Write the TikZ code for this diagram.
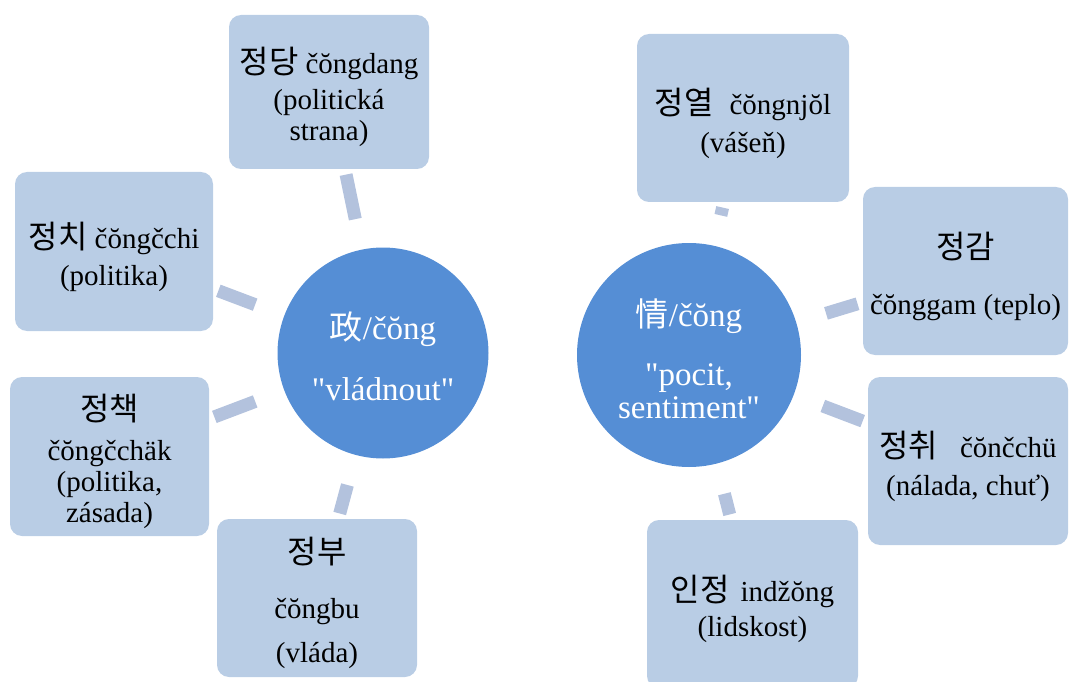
\documentclass[tikz,border=0pt]{standalone}
\usepackage{fontspec}
\setmainfont{Liberation Serif}
\newfontfamily\krfont[Scale=1.1]{Noto Sans CJK KR}
\newfontfamily\zhfont{Noto Sans CJK SC}
\usepackage{tikz}
\definecolor{boxblue}{RGB}{185,205,229}
\definecolor{hubblue}{RGB}{85,142,213}
\definecolor{barblue}{RGB}{179,194,221}
\newcommand{\qq}{\textquotedbl}
\newcommand{\ko}[1]{\rule{0pt}{37pt}{\krfont #1}}
\newcommand{\zh}[1]{\rule{0pt}{35pt}{\zhfont #1}}
\tikzset{
  hub_node/.style = {circle, fill=hubblue, text=white, align=center,
    inner sep=0pt, font=\fontsize{33}{33}\selectfont},% kruh se znakem
  term_node/.style = {rectangle, rounded corners=12pt, fill=boxblue,
    align=center, inner sep=0pt, font=\fontsize{29}{31}\selectfont},% slovo
  link_bar/.style = {barblue, line width=13pt,
    shorten <=31pt, shorten >=5.5pt}% spojka
}

\begin{document}
\begin{tikzpicture}[x=1pt, y=-1pt]
  \useasboundingbox (0,0) rectangle (1069,682);
  \clip (0,0) rectangle (1069,682);
  % 政
  \node [hub_node, minimum size=211pt] (zheng) at (383,353)
    {\zh{政}/čŏng\\[28pt]\qq vládnout\qq};
  \node [term_node, minimum width=200pt, minimum height=154pt] (dang) at (329,92)
    {\ko{정당} čŏngdang\\[5pt](politická\\strana)};
  \node [term_node, minimum width=198pt, minimum height=159pt] (chi) at (114,251.5)
    {\ko{정치} čŏngčchi\\[6pt](politika)};
  \node [term_node, minimum width=199pt, minimum height=159pt] (chaek) at (109.5,456.5)
    {\ko{정책}\\[9pt]čŏngčchäk\\(politika,\\zásada)};
  \node [term_node, minimum width=200pt, minimum height=158pt] (bu) at (317,598)
    {\ko{정부}\\[24pt]čŏngbu\\[13pt](vláda)};
  % 情
  \node [hub_node, minimum size=224pt] (qing) at (689,355)
    {\zh{情}/čŏng\\[26pt]\qq pocit,\\sentiment\qq};
  \node [term_node, minimum width=212pt, minimum height=168pt] (yeol) at (743,118)
    {\ko{정열}\hspace{16pt}čŏngnjŏl\\[7pt](vášeň)};
  \node [term_node, minimum width=205pt, minimum height=168pt] (gam) at (965.5,271)
    {\ko{정감}\\[25pt]čŏnggam (teplo)};
  \node [term_node, minimum width=200pt, minimum height=168pt] (chwi) at (968,461)
    {\ko{정취}\hspace{22pt}čŏnčchü\\[7pt](nálada, chuť)};
  \node [term_node, minimum width=211pt, minimum height=168pt] (injeong) at (752.5,604)
    {\ko{인정}\hspace{11pt}indžŏng\\[4pt](lidskost)};

  \foreach \t in {dang, chi, chaek, bu}
    \draw [link_bar] (zheng) -- (\t);
  \foreach \t in {yeol, gam, chwi, injeong}
    \draw [link_bar] (qing) -- (\t);
\end{tikzpicture}
\end{document}
